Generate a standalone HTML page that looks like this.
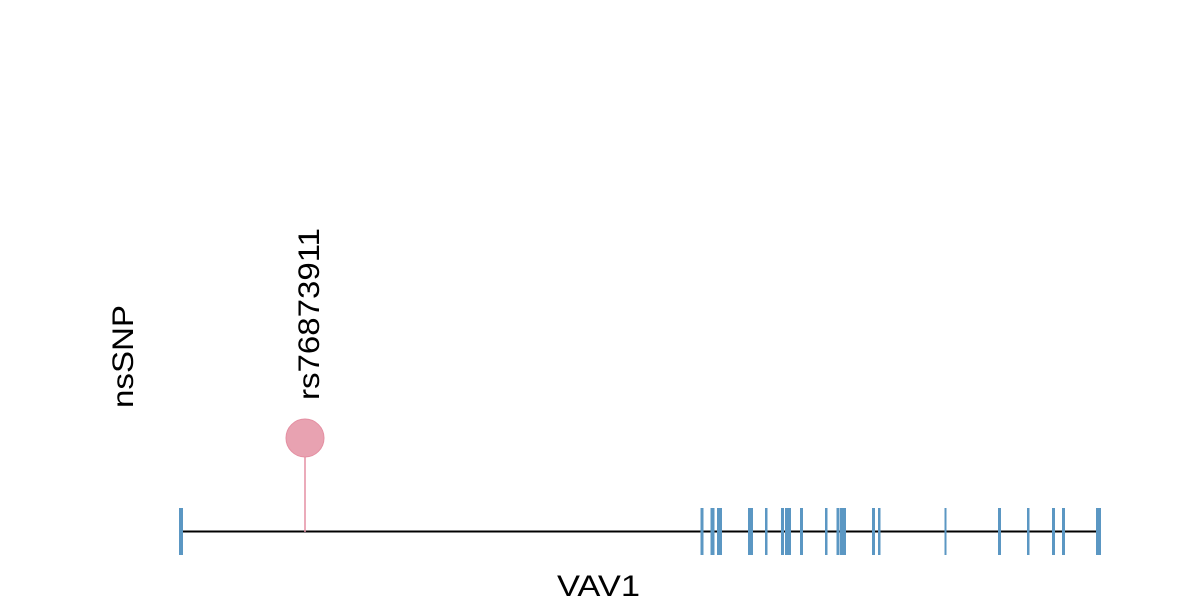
<!DOCTYPE html><html><head><style>body{margin:0;background:#fff}</style></head><body>
<svg width="1200" height="600" xmlns="http://www.w3.org/2000/svg" font-family="Liberation Sans, sans-serif">
<line x1="180" y1="531.5" x2="1100" y2="531.5" stroke="#000" stroke-width="2"/>
<g fill="#5b97c3">
<rect x="179" y="508" width="4" height="47"/>
<rect x="700.5" y="508" width="3" height="47"/>
<rect x="710.5" y="508" width="4" height="47"/>
<rect x="717" y="508" width="5" height="47"/>
<rect x="748" y="508" width="5" height="47"/>
<rect x="765" y="508" width="2.5" height="47"/>
<rect x="781" y="508" width="3" height="47"/>
<rect x="785" y="508" width="6" height="47"/>
<rect x="800" y="508" width="3" height="47"/>
<rect x="825" y="508" width="2.5" height="47"/>
<rect x="836.5" y="508" width="3" height="47"/>
<rect x="840" y="508" width="6" height="47"/>
<rect x="872" y="508" width="3" height="47"/>
<rect x="878" y="508" width="2.5" height="47"/>
<rect x="944.5" y="508" width="2" height="47"/>
<rect x="998" y="508" width="3" height="47"/>
<rect x="1027" y="508" width="2.5" height="47"/>
<rect x="1052" y="508" width="3" height="47"/>
<rect x="1062" y="508" width="3" height="47"/>
<rect x="1096" y="508" width="5" height="47"/>
</g>
<line x1="305" y1="438" x2="305" y2="532" stroke="#e48fa2" stroke-width="1.5"/>
<circle cx="305" cy="438" r="19" fill="#e8a2b1" stroke="#e48fa2"/>
<text transform="translate(319,400) rotate(-90)" font-size="30" textLength="172" lengthAdjust="spacingAndGlyphs">rs76873911</text>
<text transform="translate(133,408) rotate(-90)" font-size="30" textLength="103" lengthAdjust="spacingAndGlyphs">nsSNP</text>
<text x="557" y="596" font-size="30" textLength="83" lengthAdjust="spacingAndGlyphs">VAV1</text>
</svg></body></html>
